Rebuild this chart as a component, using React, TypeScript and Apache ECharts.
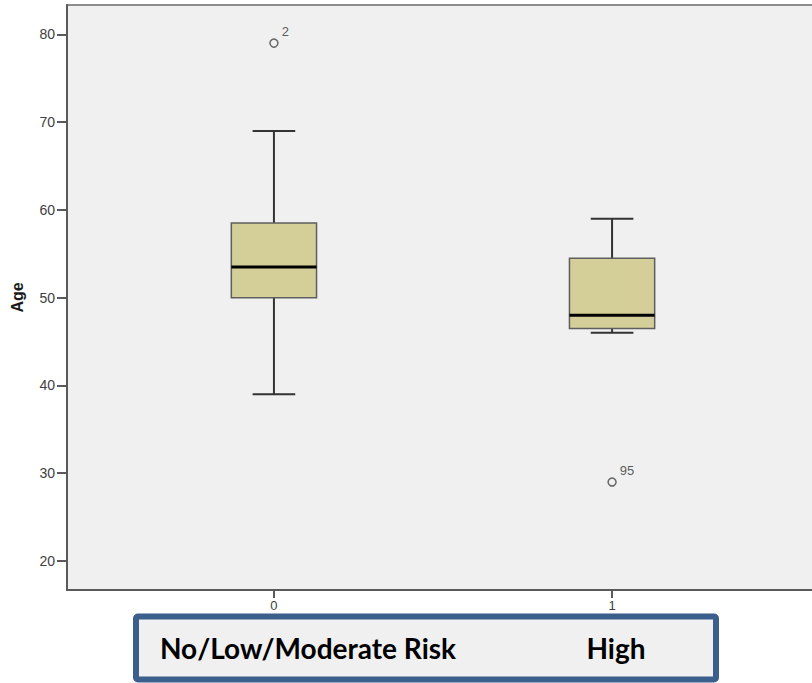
import React, { useEffect, useRef } from "react";
import * as echarts from "echarts";

// Risk groups on the x axis and the five-number summary of Age per group
const groups = [0, 1];
const groupNames = ["No/Low/Moderate Risk", "High"];
const whiskerLow = [39, 46];
const q1 = [50, 46.5];
const median = [53.5, 48];
const q3 = [58.5, 54.5];
const whiskerHigh = [69, 59];

// Outlying cases with their case numbers
const outlierGroup = [0, 1];
const outlierAge = [79, 29];
const outlierCase = ["2", "95"];

const yTicks = [20, 30, 40, 50, 60, 70, 80];

const FONT = "'Liberation Sans', Arial, sans-serif";
const BANNER_FONT = "Lato, 'Open Sans', sans-serif";

export default function App() {
  const ref = useRef<HTMLDivElement>(null);

  useEffect(() => {
    if (!ref.current) return;
    const chart = echarts.init(ref.current, undefined, { renderer: "svg" });

    const boxData = groups.map((g, i) => [g, whiskerLow[i], q1[i], median[i], q3[i], whiskerHigh[i]]);
    const outlierData = outlierGroup.map((g, i) => ({ value: [g, outlierAge[i]], name: outlierCase[i] }));

    chart.setOption({
      animation: false,
      grid: {
        left: 67,
        top: 5,
        width: 752,
        height: 585,
        show: true,
        backgroundColor: "#f0f0f0",
        borderColor: "#8c8c8c",
        borderWidth: 2,
        outerBoundsMode: "none",
        containLabel: false,
      },
      xAxis: {
        type: "value",
        min: -0.612,
        max: 1.612,
        splitLine: { show: false },
        axisLine: { show: true, onZero: false, lineStyle: { color: "#5a5a5a", width: 2 } },
        axisTick: { show: true, customValues: groups, length: 8, lineStyle: { color: "#5a5a5a", width: 2 } },
        axisLabel: {
          customValues: groups,
          color: "#404040",
          fontFamily: FONT,
          fontSize: 13,
          margin: 9,
          formatter: (v: number) => String(Math.round(v)),
        },
      },
      yAxis: {
        type: "value",
        min: 16.7,
        max: 83.34,
        name: "Age",
        nameLocation: "middle",
        nameRotate: 90,
        nameGap: 42,
        nameTextStyle: { fontFamily: FONT, fontWeight: "bold", fontSize: 16, color: "#1a1a1a" },
        splitLine: { show: false },
        axisLine: { show: true, onZero: false, lineStyle: { color: "#5a5a5a", width: 2 } },
        axisTick: { show: true, customValues: yTicks, length: 10, lineStyle: { color: "#5a5a5a", width: 2 } },
        axisLabel: {
          customValues: yTicks,
          color: "#404040",
          fontFamily: FONT,
          fontSize: 14,
          margin: 12,
        },
      },
      series: [
        {
          type: "custom",
          data: boxData,
          encode: { x: 0, y: [1, 2, 3, 4, 5] },
          renderItem: (params: any, api: any) => {
            const x = api.value(0);
            const boxW = api.size([0.252, 0])[0];
            const capW = boxW / 2;
            const pLow = api.coord([x, api.value(1)]);
            const pQ1 = api.coord([x, api.value(2)]);
            const pMed = api.coord([x, api.value(3)]);
            const pQ3 = api.coord([x, api.value(4)]);
            const pHigh = api.coord([x, api.value(5)]);
            const cx = pQ1[0];
            const whisker = { stroke: "#333333", lineWidth: 2 };
            return {
              type: "group",
              children: [
                { type: "line", shape: { x1: cx, y1: pQ3[1], x2: cx, y2: pHigh[1] }, style: whisker },
                { type: "line", shape: { x1: cx, y1: pQ1[1], x2: cx, y2: pLow[1] }, style: whisker },
                { type: "line", shape: { x1: cx - capW / 2, y1: pHigh[1], x2: cx + capW / 2, y2: pHigh[1] }, style: whisker },
                { type: "line", shape: { x1: cx - capW / 2, y1: pLow[1], x2: cx + capW / 2, y2: pLow[1] }, style: whisker },
                {
                  type: "rect",
                  shape: { x: cx - boxW / 2, y: pQ3[1], width: boxW, height: pQ1[1] - pQ3[1] },
                  style: { fill: "#d4cf99", stroke: "#5e5e5e", lineWidth: 1.5 },
                },
                {
                  type: "line",
                  shape: { x1: cx - boxW / 2, y1: pMed[1], x2: cx + boxW / 2, y2: pMed[1] },
                  style: { stroke: "#000000", lineWidth: 3 },
                },
              ],
            };
          },
        },
        {
          type: "scatter",
          data: outlierData,
          symbol: "circle",
          symbolSize: 8,
          itemStyle: { color: "#f0f0f0", borderColor: "#444444", borderWidth: 1.5 },
          label: {
            show: true,
            formatter: (p: any) => p.name,
            position: "right",
            distance: 3,
            offset: [0, -12],
            fontFamily: FONT,
            fontSize: 13,
            color: "#333333",
          },
        },
      ],
      graphic: [
        {
          type: "rect",
          shape: { x: 136, y: 616.5, width: 580, height: 63, r: 2 },
          style: { fill: "#f0f0f0", stroke: "#3b5e8c", lineWidth: 6 },
        },
        {
          type: "text",
          x: 308,
          y: 648,
          style: {
            text: groupNames[0],
            fontFamily: BANNER_FONT,
            fontWeight: "bold",
            fontSize: 28,
            fill: "#000000",
            align: "center",
            verticalAlign: "middle",
          },
        },
        {
          type: "text",
          x: 616,
          y: 648,
          style: {
            text: groupNames[1],
            fontFamily: BANNER_FONT,
            fontWeight: "bold",
            fontSize: 28,
            fill: "#000000",
            align: "center",
            verticalAlign: "middle",
          },
        },
      ],
    });

    return () => chart.dispose();
  }, []);

  return (
    <div style={{ position: "fixed", left: 0, top: 0, width: 812, height: 683, overflow: "hidden", background: "#ffffff" }}>
      <div ref={ref} style={{ width: 824, height: 683 }} />
    </div>
  );
}
